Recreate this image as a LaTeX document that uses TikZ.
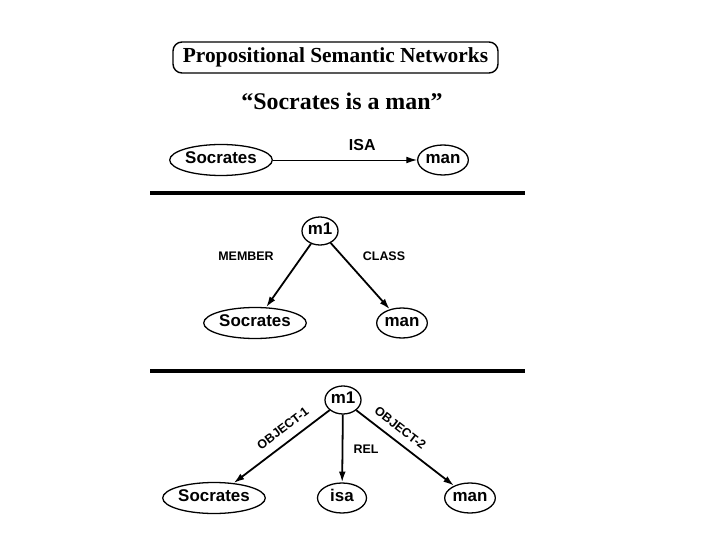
\documentclass[tikz,border=0pt]{standalone}
\usepackage{fontspec}
\setmainfont{Liberation Serif}
\setsansfont{Liberation Sans}
\usetikzlibrary{arrows.meta,positioning,shapes.geometric}
\tikzset{
  >={Latex[length=3.8mm,width=2.4mm]},
  concept/.style={ellipse,draw=black,line width=1.3pt,inner sep=0.5pt,
    text height=1.6ex,text depth=0.2ex,
    font=\sffamily\bfseries\fontsize{17}{19}\selectfont},
  wide/.style={concept,minimum width=98bp,minimum height=31bp},
  narrow/.style={concept,minimum width=49bp,minimum height=30bp},
  prop/.style={concept,minimum width=34bp,minimum height=28bp},
  arc/.style={->,line width=1.8pt},
  thinarc/.style={->,line width=1pt},
  arclbl/.style={font=\sffamily\bfseries\fontsize{12.5}{14}\selectfont,inner sep=1.5pt},
  divider/.style={line width=4pt},
  heading/.style={font=\bfseries\fontsize{21.5}{24}\selectfont},
}

\begin{document}
\begin{tikzpicture}[x=1bp,y=-1bp]
  \useasboundingbox (0,0) rectangle (720,540);
  % title and sentence
  \node[heading,draw,line width=1.4pt,rounded corners=9bp,
    minimum width=325bp,minimum height=31bp,inner sep=2pt]
    (title) at (335.5,57.5) {Propositional Semantic Networks};
  \node[heading,font=\bfseries\fontsize{24}{26}\selectfont] (sentence) at (342,101) {“Socrates is a man”};

  % ISA link
  \node[wide]   (soc1) at (221,160) {Socrates};
  \node[narrow] (man1) at (443,160) {man};
  \draw[thinarc] (soc1) -- node[above=6bp,pos=0.62,font=\sffamily\bfseries\fontsize{16}{18}\selectfont] (isa1) {ISA} (man1);

  \coordinate (d1a) at (150,193);
  \coordinate (d1b) at (525,193);
  \draw[divider] (d1a) -- (d1b);

  % member / class
  \node[prop]   (m1a)  at (320,231) {m1};
  \node[wide]   (soc2) at (255,323) {Socrates};
  \node[narrow] (man2) at (402,323) {man};
  \draw[arc] (m1a) -- (soc2);
  \draw[arc] (m1a) -- (man2);
  \node[arclbl] (member) at (246,256) {MEMBER};
  \node[arclbl] (class)  at (384,256) {CLASS};

  \coordinate (d2a) at (150,371);
  \coordinate (d2b) at (525,371);
  \draw[divider] (d2a) -- (d2b);

  % object-1 / rel / object-2
  \node[prop]   (m1b)  at (343,400) {m1};
  \node[wide]   (soc3) at (214,498) {Socrates};
  \node[narrow] (isa3) at (342,498) {isa};
  \node[narrow] (man3) at (470,498) {man};
  \draw[arc] (m1b) -- node[arclbl,sloped,above=7bp,pos=0.4] (obj1) {OBJECT-1} (soc3);
  \draw[arc] (m1b) -- (isa3);
  \draw[arc] (m1b) -- node[arclbl,sloped,above=6bp,pos=0.37] (obj2) {OBJECT-2} (man3);
  \node[arclbl] (rel) at (366,449) {REL};
\end{tikzpicture}
\end{document}
